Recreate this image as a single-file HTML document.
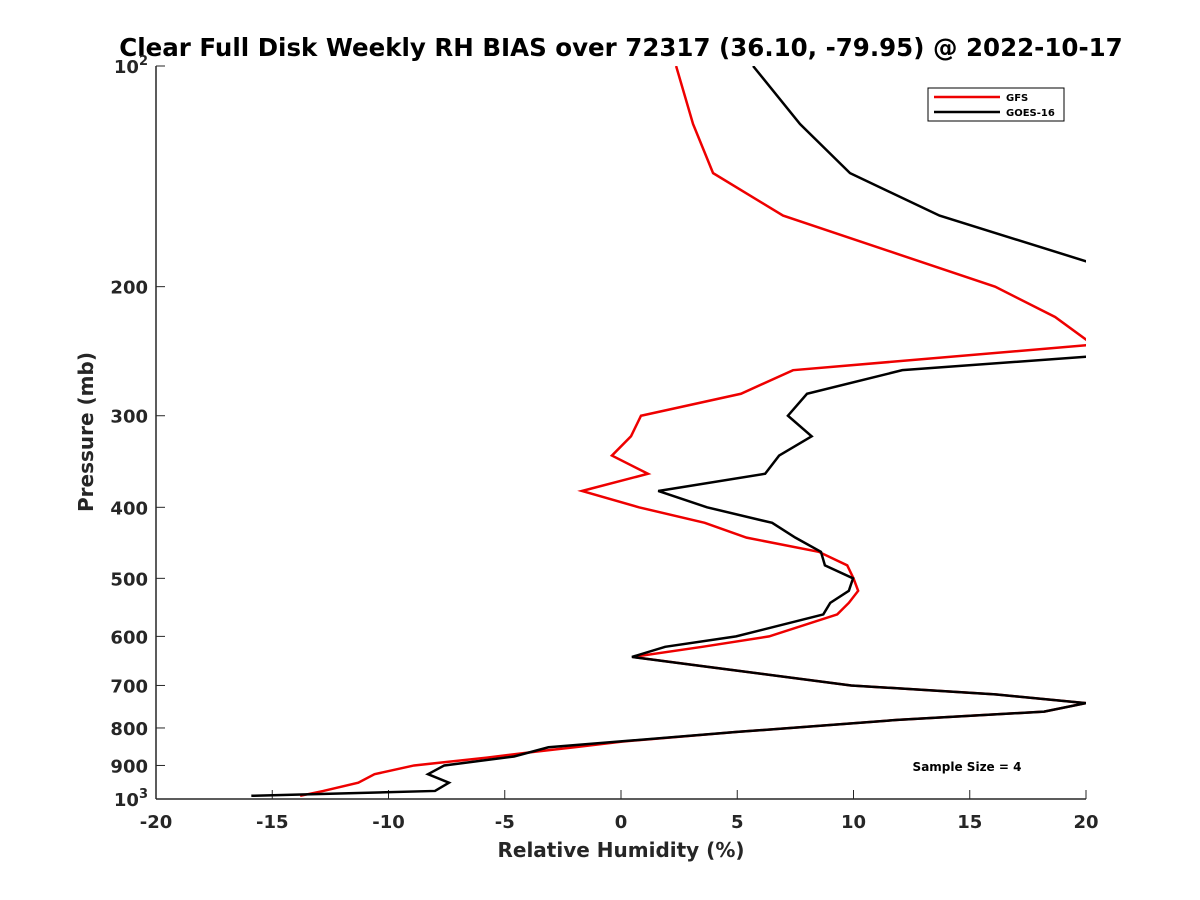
<!DOCTYPE html>
<html><head><meta charset="utf-8"><style>
body{margin:0;background:#fff}
svg{display:block;font-family:"DejaVu Sans","Liberation Sans",sans-serif}
</style></head><body>
<svg width="1200" height="900" viewBox="0 0 1200 900">
<defs><clipPath id="pc"><rect x="156" y="66" width="930" height="733"/></clipPath></defs>
<text x="621" y="56" text-anchor="middle" font-size="24.5" font-weight="bold" fill="#000">Clear Full Disk Weekly RH BIAS over 72317 (36.10, -79.95) @ 2022-10-17</text>
<g id="axes"></g>
<g id="series" clip-path="url(#pc)"></g>
<text x="621" y="857" text-anchor="middle" font-size="20" font-weight="bold" fill="#262626">Relative Humidity (%)</text>
<text transform="translate(93,432) rotate(-90)" text-anchor="middle" font-size="20" font-weight="bold" fill="#262626">Pressure (mb)</text>
<g>
<rect x="928" y="88" width="136" height="33" fill="#fff" stroke="#000" stroke-width="1"/>
<line x1="934" y1="97" x2="1000" y2="97" stroke="#e00" stroke-width="2.5"/>
<text x="1006" y="101" font-size="10" font-weight="bold">GFS</text>
<line x1="934" y1="112" x2="1000" y2="112" stroke="#000" stroke-width="2.5"/>
<text x="1006" y="116" font-size="10" font-weight="bold">GOES-16</text>
</g>
<text x="967" y="771" text-anchor="middle" font-size="12" font-weight="bold">Sample Size = 4</text>
</svg>
<script>
const xTicks=[-20,-15,-10,-5,0,5,10,15,20];
const yTicks=[200,300,400,500,600,700,800,900];
const gfsP=[100,120,140,160,200,220,240,260,280,300,320,340,360,380,400,420,440,460,480,500,520,540,560,600,620,640,660,700,720,740,760,780,810,835,850,862,878,900,925,950,975,990];
const gfsRH=[2.37,3.1,3.96,6.97,16.09,18.67,20.3,7.4,5.16,0.86,0.43,-0.39,1.16,-1.68,0.77,3.6,5.4,8.5,9.73,10.0,10.2,9.8,9.3,6.37,3.5,0.5,3.7,9.9,16.1,20.0,18.2,11.9,5.0,0.04,-2.0,-3.7,-5.76,-8.9,-10.6,-11.3,-12.8,-13.8];
const goesP=[100,120,140,160,200,249,260,280,300,320,340,360,380,400,420,440,460,480,500,520,540,560,600,620,640,660,700,720,740,760,780,810,850,875,900,925,950,975,990];
const goesRH=[5.68,7.7,9.85,13.7,23.5,20.2,12.1,8.0,7.18,8.2,6.8,6.2,1.6,3.7,6.5,7.5,8.6,8.77,9.98,9.8,9.0,8.7,4.95,1.9,0.47,3.7,9.9,16.1,20.0,18.2,11.9,5.0,-3.12,-4.6,-7.6,-8.3,-7.4,-8.0,-15.9];
const NS='http://www.w3.org/2000/svg';
const X=v=>156+(v+20)/40*930;
const Y=p=>66+(Math.log10(p)-2)*733;
const ax=document.getElementById('axes');
function mk(t,a,par){const e=document.createElementNS(NS,t);for(const k in a)e.setAttribute(k,a[k]);par.appendChild(e);return e;}
const xl=mk('line',{x1:156,y1:799,x2:1086,y2:799,stroke:'#262626','stroke-width':1.5},ax);


const yl=mk('line',{x1:156,y1:66,x2:156,y2:799,stroke:'#262626','stroke-width':1.5},ax);


xTicks.forEach(v=>{
 const t=mk('line',{x1:X(v),y1:799,x2:X(v),y2:790,stroke:'#262626','stroke-width':1},ax);
 
 
 const l=mk('text',{x:X(v),y:828,'text-anchor':'middle','font-size':18,'font-weight':'bold',fill:'#262626'},ax);
 l.textContent=String(v);
 
 
});
[100,1000].concat(yTicks).forEach(p=>{
 const t=mk('line',{x1:156,y1:Y(p),x2:165,y2:Y(p),stroke:'#262626','stroke-width':1},ax);
 
 
});
yTicks.forEach(p=>{
 const l=mk('text',{x:148,y:Y(p)+7,'text-anchor':'end','font-size':18,'font-weight':'bold',fill:'#262626'},ax);
 l.textContent=String(p);
 
 
});
[[100,'2'],[1000,'3']].forEach(([p,e])=>{
 const l=mk('text',{x:148,y:Y(p)+7,'text-anchor':'end','font-size':18,'font-weight':'bold',fill:'#262626'},ax);
 l.innerHTML='10<tspan dy="-8" font-size="13">'+e+'</tspan>';
 
 
});
const sg=document.getElementById('series');
const g1=mk('polyline',{points:gfsP.map((p,i)=>X(gfsRH[i])+','+Y(p)).join(' '),fill:'none',stroke:'#e00','stroke-width':2.5},sg);


const g2=mk('polyline',{points:goesP.map((p,i)=>X(goesRH[i])+','+Y(p)).join(' '),fill:'none',stroke:'#000','stroke-width':2.5},sg);


</script>
</body></html>
